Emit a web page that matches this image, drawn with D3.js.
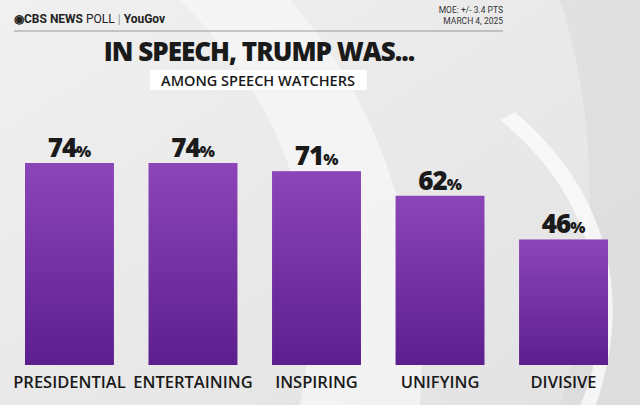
<!DOCTYPE html>
<html><head><meta charset="utf-8">
<script src="https://cdn.jsdelivr.net/npm/d3@7"></script>
<style>body{margin:0;background:#eee}svg{display:block}</style>
</head><body><svg id="c" width="640" height="405"></svg>
<script>
const categories = ["PRESIDENTIAL", "ENTERTAINING", "INSPIRING", "UNIFYING", "DIVISIVE"];
const values = [74, 74, 71, 62, 46];

const svg = d3.select("#c");
const defs = svg.append("defs");
const bg = defs.append("linearGradient").attr("id", "bg").attr("x1", 0).attr("x2", 1).attr("y1", 0).attr("y2", 1);
bg.append("stop").attr("offset", 0).attr("stop-color", "#f0f0f0");
bg.append("stop").attr("offset", 1).attr("stop-color", "#e2e2e2");
const bar = defs.append("linearGradient").attr("id", "bar").attr("x1", 0).attr("x2", 0).attr("y1", 0).attr("y2", 1);
bar.append("stop").attr("offset", 0).attr("stop-color", "#8c45b8");
bar.append("stop").attr("offset", 1).attr("stop-color", "#5c1f8e");

svg.append("rect").attr("width", 640).attr("height", 405).attr("fill", "url(#bg)");
// background swooshes
svg.append("path").attr("d", "M180,0 C300,120 330,250 300,405 L420,405 C430,250 380,100 290,0 Z").attr("fill", "#f8f8f8").attr("opacity", 0.7);
svg.append("path").attr("d", "M560,0 C600,120 600,280 560,405 L640,405 L640,0 Z").attr("fill", "#d8d8d8").attr("opacity", 0.5);
svg.append("path").attr("d", "M500,120 C600,200 620,320 580,405 L596,405 C632,300 612,195 515,112 Z").attr("fill", "#ffffff").attr("opacity", 0.7);

// header
svg.append("text").attr("x", 14).attr("y", 23).attr("font-family", "Roboto, sans-serif").attr("font-size", 12).attr("fill", "#222")
  .html('<tspan font-weight="bold">◉CBS NEWS</tspan> POLL <tspan fill="#999">|</tspan> <tspan font-weight="bold">YouGov</tspan>');
svg.append("text").attr("x", 503).attr("y", 13).attr("text-anchor", "end").attr("font-family", "Roboto, sans-serif").attr("font-size", 8.5).attr("fill", "#333").text("MOE: +/- 3.4 PTS");
svg.append("text").attr("x", 503).attr("y", 24).attr("text-anchor", "end").attr("font-family", "Roboto, sans-serif").attr("font-size", 8.5).attr("fill", "#333").text("MARCH 4, 2025");
svg.append("line").attr("x1", 14).attr("x2", 503).attr("y1", 31).attr("y2", 31).attr("stroke", "#999").attr("stroke-width", 1);
svg.append("text").attr("x", 259).attr("y", 61).attr("text-anchor", "middle").attr("font-family", "'Open Sans', sans-serif").attr("font-weight", 800).attr("font-size", 26).attr("letter-spacing", -1).attr("fill", "#1a1a1a").text("IN SPEECH, TRUMP WAS...");
svg.append("rect").attr("x", 150).attr("y", 70).attr("width", 217).attr("height", 20).attr("fill", "#fff");
svg.append("text").attr("x", 258).attr("y", 86).attr("text-anchor", "middle").attr("font-family", "'Open Sans', sans-serif").attr("font-weight", 600).attr("font-size", 14.5).attr("fill", "#1a1a1a").text("AMONG SPEECH WATCHERS");

const x = d3.scaleBand().domain(categories).range([25, 608]).paddingInner(0.28).paddingOuter(0);
const y = d3.scaleLinear().domain([0, 74]).range([365, 163]);

svg.selectAll(".bar").data(categories).join("rect")
  .attr("x", d => x(d)).attr("width", x.bandwidth())
  .attr("y", (d, i) => y(values[i])).attr("height", (d, i) => y(0) - y(values[i]))
  .attr("fill", "url(#bar)");

svg.selectAll(".val").data(categories).join("text")
  .attr("x", d => x(d) + x.bandwidth() / 2).attr("y", (d, i) => y(values[i]) - 6)
  .attr("text-anchor", "middle").attr("font-family", "'Open Sans', sans-serif").attr("font-weight", 800).attr("fill", "#1a1a1a")
  .html((d, i) => `<tspan font-size="26" letter-spacing="-1">${values[i]}</tspan><tspan font-size="16">%</tspan>`);

svg.selectAll(".cat").data(categories).join("text")
  .attr("x", d => x(d) + x.bandwidth() / 2).attr("y", 388)
  .attr("text-anchor", "middle").attr("font-family", "'Open Sans', sans-serif").attr("font-weight", 600).attr("font-size", 16.5).attr("fill", "#1a1a1a")
  .text(d => d);
</script></body></html>
